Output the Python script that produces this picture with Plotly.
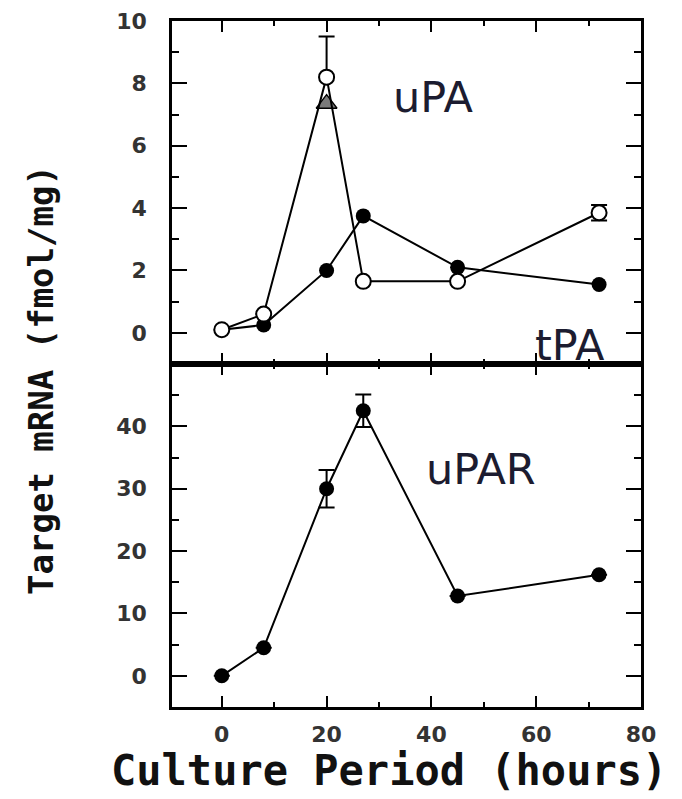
import plotly.graph_objects as go

# ---- data ----
time_h = [0, 8, 20, 27, 45, 72]
filled_top = [0.1, 0.25, 2.0, 3.75, 2.1, 1.55]          # filled circles, top panel
open_top = [0.1, 0.6, 8.2, 1.65, 1.65, 3.85]            # open circles, top panel
open_err_plus = [0, 0, 1.3, 0, 0, 0.25]
open_err_minus = [0, 0, 0, 0, 0, 0.25]
tri_x = [20]
tri_y = [7.35]
upar = [0.0, 4.5, 30.0, 42.5, 12.8, 16.2]               # uPAR, bottom panel
upar_err = [0, 0, 3.0, 2.6, 0, 0]

x_ticks = [0, 20, 40, 60, 80]
x_minor = [10, 30, 50, 70]
top_ticks = [0, 2, 4, 6, 8, 10]
top_minor = [1, 3, 5, 7, 9]
bot_ticks = [0, 10, 20, 30, 40]
bot_minor = [5, 15, 25, 35, 45]

LINE = dict(color="black", width=2)
fig = go.Figure()

# top panel
fig.add_trace(go.Scatter(x=time_h, y=filled_top, mode="lines+markers", line=LINE,
                         marker=dict(symbol="circle", size=15, color="black"),
                         xaxis="x2", yaxis="y2", name="filled"))
fig.add_trace(go.Scatter(x=tri_x, y=tri_y, mode="markers",
                         marker=dict(symbol="triangle-up", size=18, color="#7a7a7a",
                                     line=dict(color="black", width=1.5)),
                         xaxis="x2", yaxis="y2", name="triangle"))
fig.add_trace(go.Scatter(x=time_h, y=open_top, mode="lines+markers", line=LINE,
                         marker=dict(symbol="circle", size=15, color="white",
                                     line=dict(color="black", width=2)),
                         error_y=dict(type="data", array=open_err_plus, arrayminus=open_err_minus,
                                      symmetric=False, color="black", thickness=2, width=8),
                         xaxis="x2", yaxis="y2", name="open"))

# bottom panel
fig.add_trace(go.Scatter(x=time_h, y=upar, mode="lines+markers", line=LINE,
                         marker=dict(symbol="circle", size=15, color="black"),
                         error_y=dict(type="data", array=upar_err, color="black", thickness=2, width=8),
                         xaxis="x", yaxis="y", name="uPAR"))

TICKFONT = dict(family="DejaVu Sans", size=22, color="#333333", weight="bold")
base = dict(showline=True, linecolor="black", linewidth=2.5, mirror="ticks",
            ticks="inside", tickcolor="black", tickwidth=2, showgrid=False,
            zeroline=False, tickfont=TICKFONT, automargin=False,
            ticklabeloverflow="allow")

fig.update_layout(
    width=682, height=799,
    margin=dict(l=164, r=49, t=13, b=100, autoexpand=False),
    paper_bgcolor="white", plot_bgcolor="white",
    showlegend=False,
    xaxis=dict(base, domain=[0, 1], anchor="y", range=[-9.5, 80], tickmode="array",
               tickvals=x_ticks, ticklen=11, ticklabelstandoff=6,
               minor=dict(ticks="inside", ticklen=5, tickwidth=2, tickcolor="black",
                          tickmode="array", tickvals=x_minor)),
    xaxis2=dict(base, domain=[0, 1], anchor="y2", matches="x", range=[-9.5, 80],
                tickmode="array", tickvals=x_ticks, ticklen=11, showticklabels=False,
                minor=dict(ticks="inside", ticklen=5, tickwidth=2, tickcolor="black",
                           tickmode="array", tickvals=x_minor)),
    yaxis=dict(base, domain=[0, 0.5], anchor="x", range=[-5, 50], tickmode="array",
               tickvals=bot_ticks, ticklen=15, ticklabelstandoff=18,
               minor=dict(ticks="inside", ticklen=7, tickwidth=2, tickcolor="black",
                          tickmode="array", tickvals=bot_minor)),
    yaxis2=dict(base, domain=[0.5, 1], anchor="x2", range=[-1, 10], tickmode="array",
                tickvals=top_ticks, ticklen=15, ticklabelstandoff=18,
                minor=dict(ticks="inside", ticklen=7, tickwidth=2, tickcolor="black",
                           tickmode="array", tickvals=top_minor)),
)

LABELFONT = dict(family="DejaVu Sans", size=43, color="#1c1c30")
fig.add_annotation(x=40.3, y=7.55, xref="x2", yref="y2", text="uPA", showarrow=False,
                   font=LABELFONT, xanchor="center", yanchor="middle")
fig.add_annotation(x=66.4, y=-0.38, xref="x2", yref="y2", text="tPA", showarrow=False,
                   font=LABELFONT, xanchor="center", yanchor="middle")
fig.add_annotation(x=49.4, y=33.2, xref="x", yref="y", text="uPAR", showarrow=False,
                   font=LABELFONT, xanchor="center", yanchor="middle")

TITLEFONT = dict(family="DejaVu Sans Mono", size=34, color="#111111", weight="bold")
fig.add_annotation(x=-0.279, y=0.477, xref="paper", yref="paper", text="Target mRNA (fmol/mg)",
                   showarrow=False, textangle=-90, font=TITLEFONT,
                   xanchor="center", yanchor="middle")
fig.add_annotation(x=0.463, y=-0.092, xref="paper", yref="paper", text="Culture Period (hours)",
                   showarrow=False, font=dict(TITLEFONT, size=42),
                   xanchor="center", yanchor="middle")

fig.write_html("out.html")
